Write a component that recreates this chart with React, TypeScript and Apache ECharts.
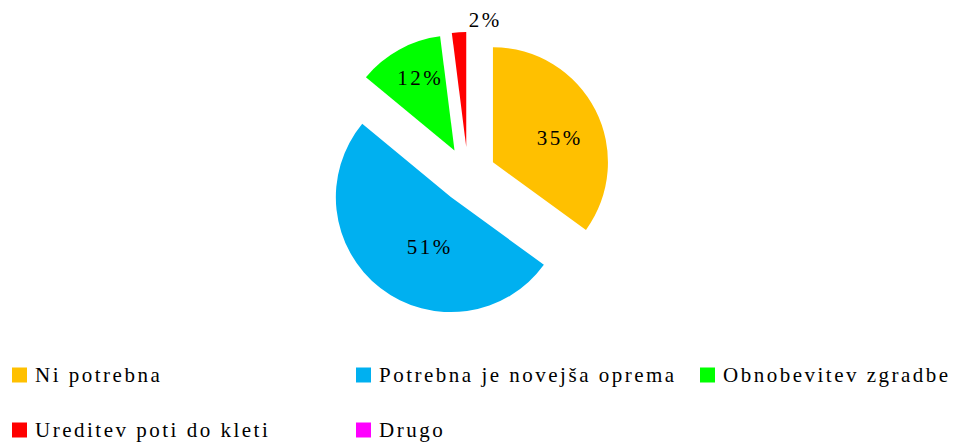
import React, { useEffect, useRef } from 'react';
import * as echarts from 'echarts';

const categories = [
  'Ni potrebna',
  'Potrebna je novejša oprema',
  'Obnobevitev zgradbe',
  'Ureditev poti do kleti',
  'Drugo',
];
const values = [35, 51, 12, 2, 0];
const colors = ['#FFC000', '#00B0F0', '#00FF00', '#FF0000', '#FF00FF'];
// fine-tuning of the label positions (px)
const labelShift: number[][] = [
  [13, 3],
  [16, 2],
  [-5, -19],
  [48, -7],
  [0, 0],
];

const FONT = 'Liberation Serif';

export default function App() {
  const ref = useRef<HTMLDivElement>(null);

  useEffect(() => {
    document.body.style.margin = '0';
    if (!ref.current) return;
    const chart = echarts.init(ref.current, undefined, { renderer: 'svg' });

    chart.setOption({
      animation: false,
      backgroundColor: '#ffffff',
      legend: {
        left: 12,
        right: 0,
        top: 363,
        padding: 0,
        orient: 'horizontal',
        icon: 'rect',
        itemWidth: 15,
        itemHeight: 15,
        itemGap: 31,
        selectedMode: false,
        textStyle: {
          fontFamily: FONT,
          fontSize: 21,
          color: '#000',
          width: 290,
          lineHeight: 24,
          padding: [0, 0, 0, 3],
        },
        data: categories.map((name, j) => ({
          name,
          itemStyle: { color: colors[j] },
          textStyle: j === 2 ? { width: 200 } : undefined,
        })),
      },
      series: [
        {
          type: 'pie',
          center: [468, 175],
          radius: 115,
          startAngle: 90,
          clockwise: true,
          selectedMode: 'multiple',
          selectedOffset: 28,
          silent: true,
          avoidLabelOverlap: false,
          percentPrecision: 0,
          emphasis: { disabled: true },
          labelLayout: (params: any) => ({
            dx: labelShift[params.dataIndex][0],
            dy: labelShift[params.dataIndex][1],
          }),
          label: {
            show: true,
            position: 'inside',
            formatter: '{d}%',
            fontFamily: FONT,
            fontSize: 21,
            color: '#000',
          },
          labelLine: { show: false, length: 5, length2: 0 },
          data: categories.map((name, j) => ({
            name,
            value: values[j],
            selected: values[j] > 0,
            itemStyle: { color: colors[j], borderWidth: 0 },
            label:
              values[j] === 0
                ? { show: false }
                : j === 3
                ? { position: 'outside' }
                : undefined,
          })),
        },
      ],
    } as any);

    return () => chart.dispose();
  }, []);

  return (
    <>
      <style>{`.pie-chart text { letter-spacing: 2.5px; }`}</style>
      <div className="pie-chart" ref={ref} style={{ width: 958, height: 442 }} />
    </>
  );
}
